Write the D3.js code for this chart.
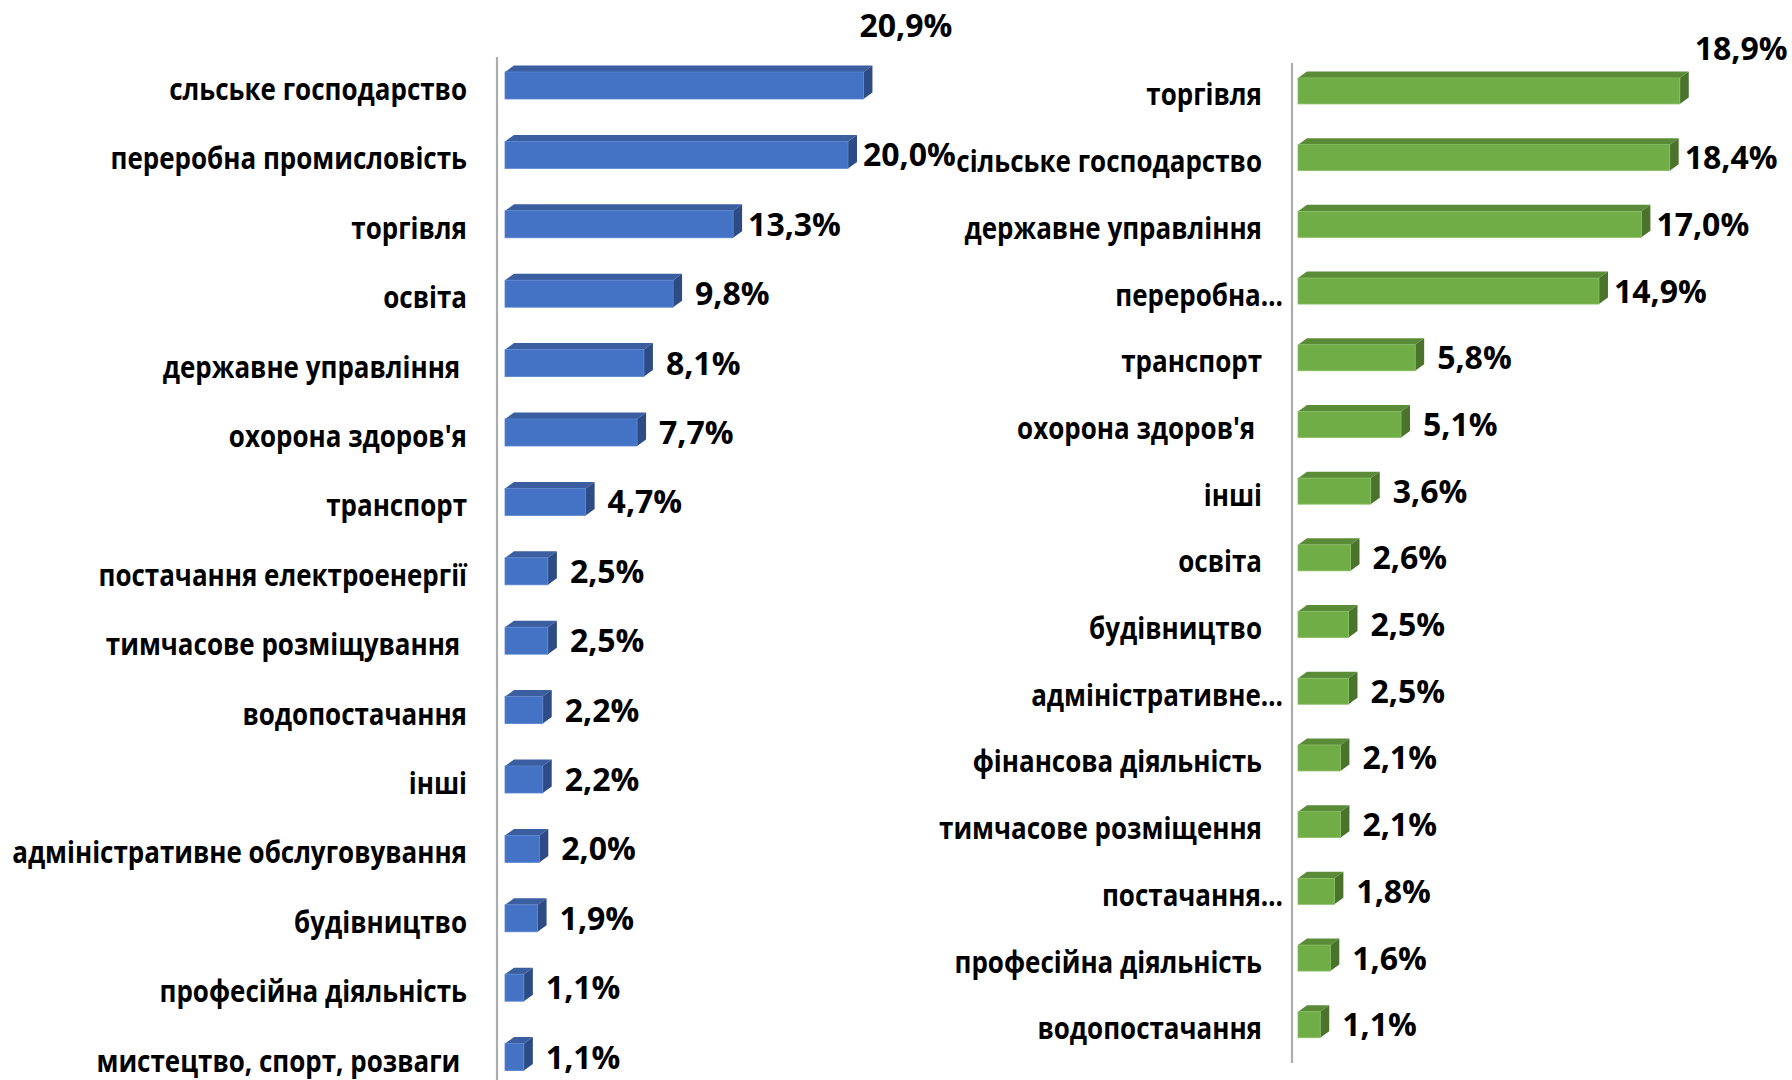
<!DOCTYPE html>
<html>
<head>
<meta charset="utf-8">
<script src="https://cdn.jsdelivr.net/npm/d3@7"></script>
<style>
  html, body { margin: 0; padding: 0; background: #fff; }
  svg { display: block; }
  text { font-family: "Open Sans", "Noto Sans", sans-serif; font-weight: 700; fill: #000; white-space: pre; }
</style>
</head>
<body>
<svg id="chart" width="1792" height="1080"></svg>
<script>
// ---------- data ----------
const leftCategories = [
  "сльське господарство",
  "переробна промисловість",
  "торгівля",
  "освіта",
  "державне управління ",
  "охорона здоров'я",
  "транспорт",
  "постачання електроенергії",
  "тимчасове розміщування ",
  "водопостачання",
  "інші",
  "адміністративне обслуговування",
  "будівництво",
  "професійна діяльність",
  "мистецтво, спорт, розваги "
];
const leftValues = [20.9, 20.0, 13.3, 9.8, 8.1, 7.7, 4.7, 2.5, 2.5, 2.2, 2.2, 2.0, 1.9, 1.1, 1.1];
const leftLabels = ["20,9%", "20,0%", "13,3%", "9,8%", "8,1%", "7,7%", "4,7%", "2,5%", "2,5%", "2,2%", "2,2%", "2,0%", "1,9%", "1,1%", "1,1%"];

const rightCategories = [
  "торгівля",
  "сільське господарство",
  "державне управління",
  "переробна…",
  "транспорт",
  "охорона здоров'я ",
  "інші",
  "освіта",
  "будівництво",
  "адміністративне…",
  "фінансова діяльність",
  "тимчасове розміщення",
  "постачання…",
  "професійна діяльність",
  "водопостачання"
];
const rightValues = [18.9, 18.4, 17.0, 14.9, 5.8, 5.1, 3.6, 2.6, 2.5, 2.5, 2.1, 2.1, 1.8, 1.6, 1.1];
const rightLabels = ["18,9%", "18,4%", "17,0%", "14,9%", "5,8%", "5,1%", "3,6%", "2,6%", "2,5%", "2,5%", "2,1%", "2,1%", "1,8%", "1,6%", "1,1%"];

// ---------- layout ----------
const svg = d3.select("#chart");

const panels = [
  {
    cats: leftCategories, vals: leftValues, labels: leftLabels,
    x0: 505, pxPerUnit: 17.15,
    yTop: 50.8, step: 69.4, barH: 27,
    axisX: 497, axisY0: 57, axisY1: 1080,
    labelRight: 467,
    colors: { front: "#4472C4", top: "#3A5E9F", side: "#2D4C86", stroke: "#5A85D0" },
    topLabel: { dx: -4, dy: -35 }
  },
  {
    cats: rightCategories, vals: rightValues, labels: rightLabels,
    x0: 1298, pxPerUnit: 20.2,
    yTop: 57.6, step: 66.7, barH: 26,
    axisX: 1292, axisY0: 63, axisY1: 1063,
    labelRight: 1262,
    colors: { front: "#70AD47", top: "#5A8C38", side: "#4A742C", stroke: "#86BE62" },
    topLabel: { dx: 15, dy: -18 }
  }
];

const depthX = 9, depthY = 6.5;
const catFontSize = 30;
const valFontSize = 32;

// calibrate horizontal compression so the category font behaves like a narrow (Calibri-like) face
const probe = svg.append("text").style("font-size", catFontSize + "px").text("адміністративне обслуговування");
const probeLen = probe.node().getComputedTextLength();
probe.remove();
const catScaleX = 455 / probeLen;

panels.forEach(p => {
  const n = p.cats.length;
  const maxV = d3.max(p.vals);
  const x = d3.scaleLinear().domain([0, maxV]).range([p.x0, p.x0 + maxV * p.pxPerUnit]);
  const y = d3.scalePoint().domain(p.cats).range([p.yTop, p.yTop + n * p.step]).padding(0.5);

  const g = svg.append("g");

  // axis line
  g.append("line")
    .attr("x1", p.axisX).attr("x2", p.axisX)
    .attr("y1", p.axisY0).attr("y2", p.axisY1)
    .attr("stroke", "#ADADAD").attr("stroke-width", 2.2);

  const rows = p.cats.map((c, i) => ({ cat: c, v: p.vals[i], lab: p.labels[i], i }));

  const bar = g.selectAll("g.bar").data(rows).join("g").attr("class", "bar");

  // top face
  bar.append("path")
    .attr("d", d => {
      const xs = x(0), xe = x(d.v), yt = y(d.cat) - p.barH / 2;
      return `M${xs},${yt} L${xs + depthX},${yt - depthY} L${xe + depthX},${yt - depthY} L${xe},${yt} Z`;
    })
    .attr("fill", p.colors.top);

  // side face
  bar.append("path")
    .attr("d", d => {
      const xe = x(d.v), yt = y(d.cat) - p.barH / 2, yb = y(d.cat) + p.barH / 2;
      return `M${xe},${yt} L${xe + depthX},${yt - depthY} L${xe + depthX},${yb - depthY} L${xe},${yb} Z`;
    })
    .attr("fill", p.colors.side);

  // front face
  bar.append("rect")
    .attr("x", x(0))
    .attr("y", d => y(d.cat) - p.barH / 2)
    .attr("width", d => x(d.v) - x(0))
    .attr("height", p.barH)
    .attr("fill", p.colors.front)
    .attr("stroke", p.colors.stroke)
    .attr("stroke-width", 0.8);

  // category labels (compressed horizontally)
  g.selectAll("g.cat").data(rows).join("g").attr("class", "cat")
    .attr("transform", d => {
      const xr = d.cat.endsWith("…") ? p.labelRight + 21 : p.labelRight;
      return `translate(${xr},${y(d.cat) + 14.5}) scale(${catScaleX},1)`;
    })
    .append("text")
    .attr("text-anchor", "end")
    .style("font-size", catFontSize + "px")
    .text(d => d.cat);

  // value labels
  g.selectAll("text.val").data(rows).join("text").attr("class", "val")
    .style("font-size", valFontSize + "px")
    .attr("x", d => d.v === maxV ? x(d.v) + p.topLabel.dx : x(d.v) + depthX + (d.v >= 10 ? 6 : 13))
    .attr("y", d => d.v === maxV ? y(d.cat) - p.barH / 2 + p.topLabel.dy : y(d.cat) + 11.5)
    .text(d => d.lab);
});
</script>
</body>
</html>
